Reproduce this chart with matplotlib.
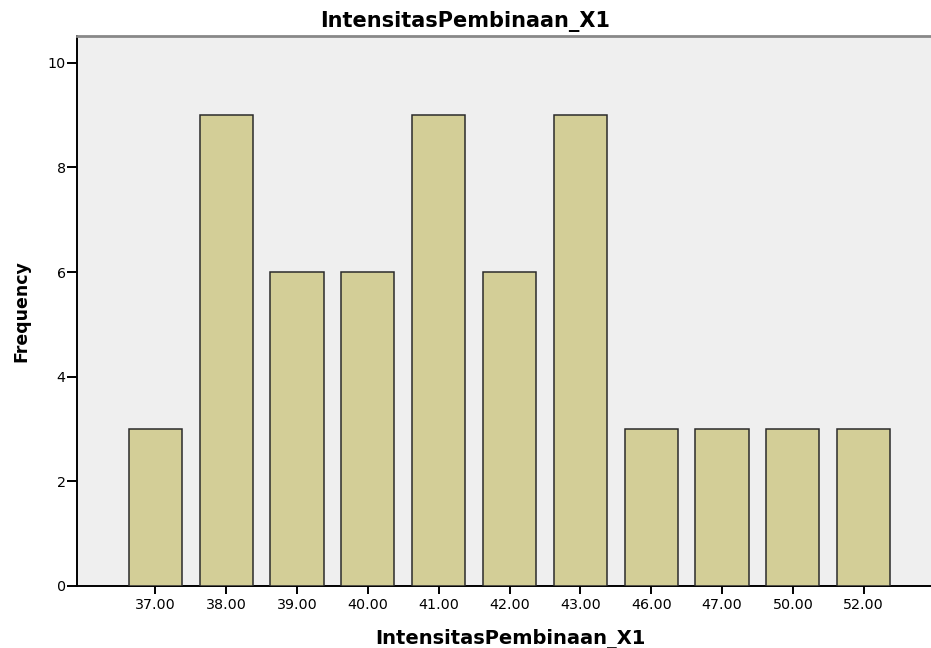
import numpy as np
import matplotlib.pyplot as plt

# data
categories = ['37.00', '38.00', '39.00', '40.00', '41.00', '42.00',
              '43.00', '46.00', '47.00', '50.00', '52.00']
frequency = [3, 9, 6, 6, 9, 6, 9, 3, 3, 3, 3]
y_ticks = [0, 2, 4, 6, 8, 10]

plt.rcParams['font.family'] = ['DejaVu Sans']

fig = plt.figure(figsize=(9.31, 6.48), dpi=100)
ax = fig.add_axes([0.0832, 0.0957, 0.9168, 0.8495])
ax.set_facecolor('#efefef')

x = np.arange(len(categories))
ax.bar(x, frequency, width=0.75, color='#d3ce97', edgecolor='#2b2b2b',
       linewidth=1.1, zorder=3)

ax.set_xlim(-1.10, 10.95)
ax.set_ylim(0, 10.52)
ax.set_xticks(x)
ax.set_xticklabels(categories)
ax.set_yticks(y_ticks)

# spines like SPSS output
for s in ['left', 'bottom']:
    ax.spines[s].set_color('black')
    ax.spines[s].set_linewidth(1.4)
ax.spines['top'].set_color('#888888')
ax.spines['top'].set_linewidth(2)
ax.spines['right'].set_visible(False)

ax.tick_params(axis='y', length=7.5, width=1.4, pad=1, labelsize=10.3, colors='black')
ax.tick_params(axis='x', length=6, width=1.4, pad=3, labelsize=10.3, colors='black')

# title is centred on the whole figure, x label sits slightly right of axes centre
fig.text(0.5, 1 - 27 / 648, 'IntensitasPembinaan_X1', ha='center', va='baseline',
         fontsize=15, fontweight='bold')
fig.text(510 / 931, 4 / 648, 'IntensitasPembinaan_X1', ha='center', va='baseline',
         fontsize=14, fontweight='bold')
ax.set_ylabel('Frequency', fontsize=12.5, fontweight='bold', labelpad=12)

fig.savefig('out.png', dpi=100)
